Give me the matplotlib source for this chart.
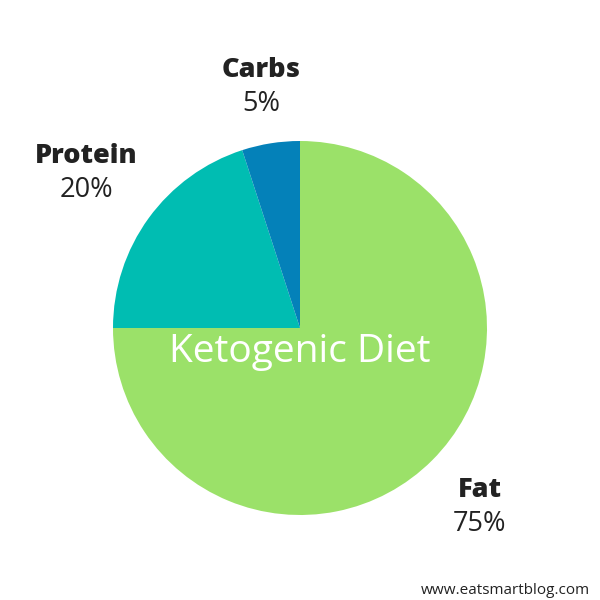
import matplotlib.pyplot as plt

# slice data (clockwise from top)
labels = ["Fat", "Protein", "Carbs"]
shares = [75, 20, 5]
colors = ["#9be169", "#00bdb2", "#0481b9"]

plt.rcParams['font.family'] = ['Open Sans', 'DejaVu Sans']

fig = plt.figure(figsize=(6, 6), dpi=100)
ax = fig.add_axes([0, 0, 1, 1])

# pie centred at pixel (300, 328), radius ~187
ax.pie(shares, colors=colors, startangle=90, counterclock=False,
       center=(300, 272), radius=187, frame=True,
       wedgeprops=dict(linewidth=0))
ax.set_xlim(0, 600)
ax.set_ylim(0, 600)
ax.set_aspect('equal')
ax.axis('off')

dark = "#222222"
label_pos = {"Carbs": (261, 530), "Protein": (86, 444), "Fat": (480, 110)}
for name, val in zip(labels, shares):
    x, y = label_pos[name]
    ax.text(x, y, name, ha='center', va='center', fontsize=19.5,
            fontweight='heavy', color=dark)
    ax.text(x, y - 34, f"{val}%", ha='center', va='center', fontsize=19.5,
            color=dark)

ax.text(300, 248, "Ketogenic Diet", ha='center', va='center',
        fontsize=28, color='white')
ax.text(505, 10, "www.eatsmartblog.com", ha='center', va='center',
        fontsize=11, color=dark)

fig.savefig("out.png", dpi=100)
